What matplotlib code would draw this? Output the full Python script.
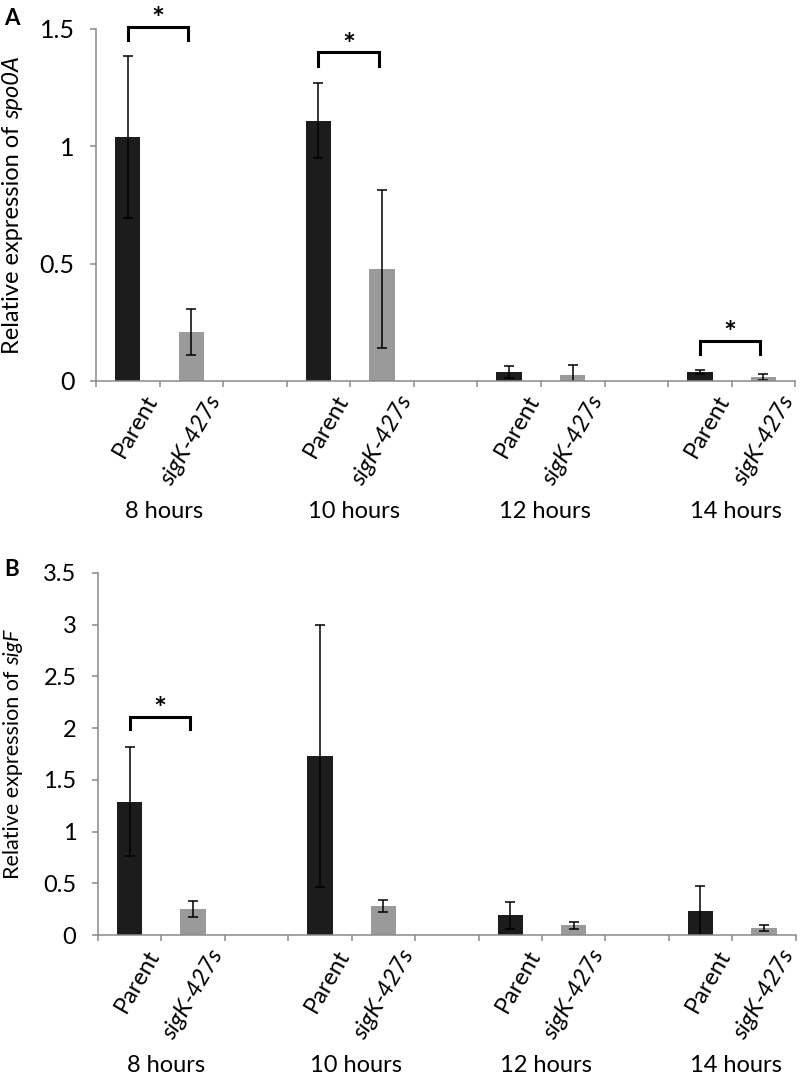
import matplotlib
matplotlib.use("Agg")
import matplotlib.pyplot as plt
import numpy as np

plt.rcParams['font.family'] = ['Lato', 'DejaVu Sans']

# ---- data ----
groups = ['8 hours', '10 hours', '12 hours', '14 hours']
strains = ['Parent', 'sigK-427s']

spo0a_parent = [1.04, 1.11, 0.038, 0.038]
spo0a_parent_err = [0.345, 0.16, 0.025, 0.007]
spo0a_sigk = [0.21, 0.477, 0.026, 0.017]
spo0a_sigk_err = [0.098, 0.336, 0.042, 0.013]

sigf_parent = [1.29, 1.73, 0.19, 0.23]
sigf_parent_err = [0.53, 1.27, 0.13, 0.245]
sigf_sigk = [0.25, 0.28, 0.093, 0.065]
sigf_sigk_err = [0.075, 0.055, 0.037, 0.03]

# significance brackets: (group index, bracket top, leg drop)
spo0a_sig = [(0, 1.51, 0.055), (1, 1.40, 0.058), (3, 0.17, 0.055)]
sigf_sig = [(0, 2.11, 0.12)]

PARENT_C = '#1c1c1c'
SIGK_C = '#9a9a9a'
AXIS_C = '#8a8a8a'

fig = plt.figure(figsize=(8, 10.74), dpi=100)


def panel(rect, parent, perr, sigk, serr, ymax, yticks, sigs, tick_size,
          letter, letter_xy):
    ax = fig.add_axes(rect)
    n = len(groups)
    p_pos = np.arange(n) * 3
    s_pos = p_pos + 1
    ekw = dict(ecolor='black', elinewidth=1.1, capsize=3.3, capthick=1.1)
    ax.bar(p_pos, parent, 0.4, yerr=perr, color=PARENT_C, error_kw=ekw, zorder=2)
    ax.bar(s_pos, sigk, 0.4, yerr=serr, color=SIGK_C, error_kw=ekw, zorder=2)
    ax.set_xlim(-0.5, 3 * n - 1 - 0.5)
    ax.set_ylim(0, ymax)
    ax.set_yticks(yticks)
    ax.set_yticklabels([f'{v:g}' for v in yticks])
    ax.set_xticks(np.arange(-0.5, 3 * n - 1, 1.0))
    ax.set_xticklabels([])
    for s in ['top', 'right']:
        ax.spines[s].set_visible(False)
    for s in ['left', 'bottom']:
        ax.spines[s].set_color(AXIS_C)
        ax.spines[s].set_linewidth(1.1)
    ax.tick_params(axis='both', direction='out', color=AXIS_C, width=1.1,
                   length=4.5, labelsize=tick_size, pad=11)
    # strain labels and group labels
    for i in range(n):
        for pos, name in zip([p_pos[i], s_pos[i]], strains):
            ax.annotate(name, xy=(pos, 0), xycoords=('data', 'axes fraction'),
                        xytext=(18, -11.5), textcoords='offset points',
                        ha='right', va='center', rotation=60,
                        rotation_mode='anchor', fontsize=17,
                        style='normal' if name == 'Parent' else 'italic')
        ax.annotate(groups[i], xy=(p_pos[i] + 0.5, 0),
                    xycoords=('data', 'axes fraction'),
                    xytext=(3, -94), textcoords='offset points',
                    ha='center', va='center', fontsize=17)
    # significance brackets
    for gi, top, drop in sigs:
        x0 = p_pos[gi]
        x1 = s_pos[gi] - 0.05
        ax.plot([x0, x0, x1, x1], [top - drop, top, top, top - drop],
                color='black', lw=2.2, clip_on=False, solid_joinstyle='miter',
                zorder=3)
        ax.annotate('*', xy=((x0 + x1) / 2, top), xytext=(0, 5),
                    textcoords='offset points', ha='center', va='center',
                    fontsize=22, fontweight='bold', annotation_clip=False)
    fig.text(letter_xy[0], letter_xy[1], letter, fontsize=16,
             fontweight='bold', ha='left', va='center')
    return ax


axA = panel([0.12, 0.6453, 0.874, 0.3277], spo0a_parent, spo0a_parent_err,
            spo0a_sigk, spo0a_sigk_err, 1.5, [0, 0.5, 1, 1.5], spo0a_sig, 18,
            'A', (0.005, 0.983))
axB = panel([0.1225, 0.1294, 0.872, 0.3371], sigf_parent, sigf_parent_err,
            sigf_sigk, sigf_sigk_err, 3.5, np.arange(0, 3.51, 0.5), sigf_sig, 17,
            'B', (0.005, 0.470))


def draw_ylabel(ax, gene, size, xpix):
    # two rotated pieces stacked vertically so the gene name can be italic
    fig.canvas.draw()
    r = fig.canvas.get_renderer()
    a = fig.text(0, 0, 'Relative expression of ', fontsize=size, rotation=90,
                 ha='center', va='bottom')
    b = fig.text(0, 0, gene, fontsize=size, rotation=90, style='italic',
                 ha='center', va='bottom')
    ha_ = a.get_window_extent(r).height
    hb_ = b.get_window_extent(r).height
    bb = ax.get_window_extent(r)
    yc = (bb.y0 + bb.y1) / 2
    y0 = yc - (ha_ + hb_) / 2
    W, H = fig.bbox.width, fig.bbox.height
    a.set_position((xpix / W, y0 / H))
    b.set_position((xpix / W, (y0 + ha_) / H))


draw_ylabel(axA, 'spo0A', 17, 13)
draw_ylabel(axB, 'sigF', 15.5, 13)

fig.savefig('out.png', dpi=100)
